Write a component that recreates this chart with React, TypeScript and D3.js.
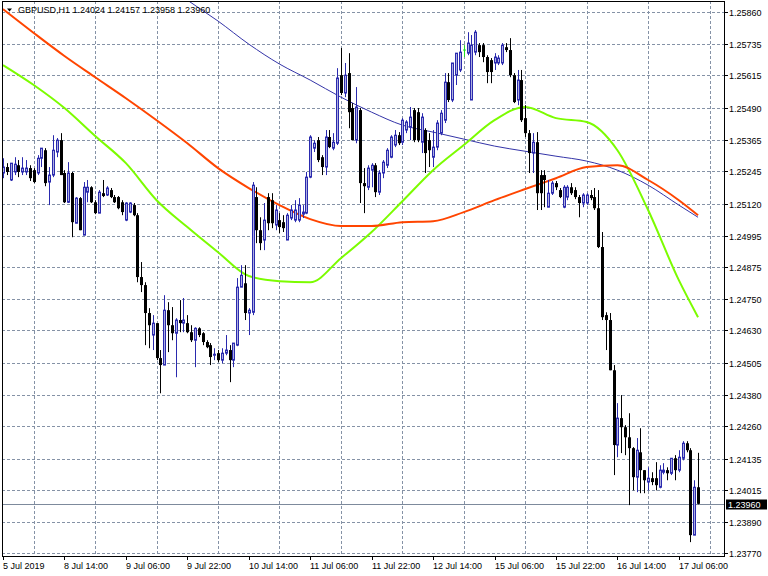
import React from "react";
import * as d3 from "d3";

const SYMBOL = "GBPUSD,H1";

const OPEN = [
1.25238,1.25261,1.25211,1.25242,1.25268,1.25242,1.25242,1.25257,1.25249,1.25238,
1.25295,1.25326,1.25203,1.25230,1.25319,1.25365,1.25238,1.25125,1.25238,1.25044,
1.25141,1.24998,1.25164,1.25183,1.25125,1.25083,1.25160,1.25153,1.25172,1.25145,
1.25145,1.25125,1.25056,1.25087,1.25114,1.25075,1.24836,1.24805,1.24697,1.24612,
1.24658,1.24523,1.24496,1.24708,1.24650,1.24619,1.24670,1.24658,1.24658,1.24623,
1.24592,1.24638,1.24619,1.24585,1.24573,1.24534,1.24542,1.24515,1.24542,1.24554,
1.24515,1.24573,1.24797,1.24812,1.24697,1.24700,1.25145,1.25017,1.24979,1.25145,
1.25133,1.25037,1.25056,1.25048,1.24979,1.25064,1.25056,1.25056,1.25079,1.25083,
1.25222,1.25334,1.25365,1.25299,1.25261,1.25377,1.25334,1.25353,1.25616,1.25547,
1.25624,1.25489,1.25365,1.25481,1.25199,1.25183,1.25249,1.25268,1.25164,1.25238,
1.25268,1.25299,1.25346,1.25384,1.25357,1.25404,1.25415,1.25481,1.25473,1.25357,
1.25404,1.25365,1.25299,1.25338,1.25392,1.25442,1.25589,1.25520,1.25616,1.25636,
1.25713,1.25701,1.25520,1.25705,1.25732,1.25732,1.25686,1.25674,1.25663,1.25663,
1.25663,1.25724,1.25713,1.25616,1.25520,1.25597,1.25450,1.25392,1.25315,1.25357,
1.25230,1.25230,1.25106,1.25160,1.25199,1.25172,1.25106,1.25145,1.25183,1.25172,
1.25145,1.25122,1.25122,1.25153,1.25145,1.25102,1.24952,1.24689,1.24670,1.24476,
1.24187,1.24291,1.24256,1.24217,1.24175,1.24063,1.24159,1.24090,1.24044,1.24059,
1.24059,1.24024,1.24082,1.24090,1.24078,1.24136,1.24090,1.24136,1.24194,1.24167,
1.23839,1.24024];

const HIGH = [
1.25295,1.25276,1.25276,1.25299,1.25288,1.25299,1.25288,1.25268,1.25257,1.25307,
1.25334,1.25334,1.25261,1.25384,1.25373,1.25392,1.25249,1.25280,1.25242,1.25145,
1.25145,1.25203,1.25211,1.25187,1.25133,1.25172,1.25211,1.25187,1.25180,1.25153,
1.25149,1.25133,1.25125,1.25125,1.25122,1.25083,1.24894,1.24816,1.24716,1.24689,
1.24658,1.24554,1.24766,1.24739,1.24720,1.24677,1.24747,1.24755,1.24689,1.24650,
1.24642,1.24642,1.24623,1.24592,1.24581,1.24561,1.24554,1.24561,1.24612,1.24573,
1.24581,1.24832,1.24882,1.24882,1.24716,1.25203,1.25183,1.25067,1.25122,1.25160,
1.25160,1.25114,1.25083,1.25075,1.25083,1.25114,1.25133,1.25141,1.25114,1.25242,
1.25384,1.25365,1.25377,1.25307,1.25404,1.25404,1.25392,1.25643,1.25721,1.25663,
1.25701,1.25508,1.25570,1.25489,1.25257,1.25268,1.25276,1.25276,1.25249,1.25288,
1.25334,1.25384,1.25404,1.25396,1.25450,1.25442,1.25493,1.25489,1.25489,1.25469,
1.25411,1.25392,1.25404,1.25442,1.25481,1.25624,1.25624,1.25663,1.25701,1.25751,
1.25732,1.25782,1.25771,1.25790,1.25740,1.25740,1.25693,1.25682,1.25701,1.25693,
1.25740,1.25740,1.25759,1.25624,1.25636,1.25636,1.25500,1.25404,1.25392,1.25396,
1.25249,1.25249,1.25211,1.25207,1.25207,1.25180,1.25191,1.25191,1.25199,1.25183,
1.25153,1.25160,1.25160,1.25172,1.25180,1.25172,1.25010,1.24700,1.24697,1.24496,
1.24349,1.24380,1.24264,1.24310,1.24179,1.24214,1.24252,1.24090,1.24101,1.24082,
1.24121,1.24109,1.24117,1.24101,1.24136,1.24148,1.24167,1.24202,1.24202,1.24175,
1.24051,1.24157];

const LOW = [
1.25218,1.25230,1.25207,1.25230,1.25222,1.25230,1.25230,1.25207,1.25199,1.25230,
1.25261,1.25187,1.25114,1.25222,1.25299,1.25230,1.25122,1.25122,1.24990,1.25044,
1.25017,1.24998,1.25125,1.25122,1.25079,1.25083,1.25145,1.25149,1.25141,1.25122,
1.25098,1.25075,1.25052,1.25083,1.25071,1.24816,1.24778,1.24573,1.24561,1.24554,
1.24515,1.24387,1.24496,1.24546,1.24592,1.24449,1.24623,1.24623,1.24619,1.24585,
1.24488,1.24604,1.24573,1.24561,1.24496,1.24515,1.24507,1.24503,1.24534,1.24430,
1.24488,1.24569,1.24797,1.24670,1.24612,1.24689,1.24967,1.24940,1.24940,1.25017,
1.25025,1.25017,1.25006,1.25010,1.24979,1.25056,1.25048,1.25048,1.25064,1.25079,
1.25218,1.25319,1.25280,1.25230,1.25230,1.25334,1.25326,1.25346,1.25539,1.25531,
1.25411,1.25365,1.25353,1.25122,1.25083,1.25172,1.25183,1.25145,1.25153,1.25218,
1.25257,1.25295,1.25338,1.25346,1.25346,1.25392,1.25365,1.25357,1.25357,1.25315,
1.25238,1.25261,1.25261,1.25326,1.25384,1.25431,1.25512,1.25512,1.25578,1.25628,
1.25686,1.25693,1.25520,1.25693,1.25686,1.25666,1.25585,1.25585,1.25636,1.25655,
1.25655,1.25705,1.25608,1.25508,1.25500,1.25435,1.25377,1.25238,1.25238,1.25095,
1.25095,1.25106,1.25106,1.25153,1.25172,1.25141,1.25102,1.25133,1.25153,1.25137,
1.25067,1.25106,1.25114,1.25133,1.25095,1.24948,1.24670,1.24554,1.24476,1.24071,
1.24140,1.24156,1.24148,1.23955,1.24012,1.24005,1.24001,1.24001,1.24012,1.24032,
1.24012,1.24020,1.24074,1.24051,1.24071,1.24051,1.24082,1.24128,1.24159,1.23812,
1.23839,1.23958];

const CLOSE = [
1.25261,1.25242,1.25276,1.25272,1.25242,1.25257,1.25257,1.25218,1.25203,1.25295,
1.25334,1.25199,1.25230,1.25326,1.25365,1.25230,1.25125,1.25238,1.25048,1.25141,
1.25017,1.25183,1.25183,1.25125,1.25083,1.25164,1.25149,1.25180,1.25145,1.25125,
1.25102,1.25087,1.25122,1.25122,1.25075,1.24836,1.24805,1.24697,1.24650,1.24658,
1.24523,1.24496,1.24708,1.24650,1.24619,1.24670,1.24658,1.24670,1.24623,1.24592,
1.24638,1.24612,1.24585,1.24565,1.24527,1.24538,1.24515,1.24542,1.24554,1.24515,
1.24581,1.24797,1.24843,1.24697,1.24708,1.25191,1.25017,1.24967,1.25056,1.25044,
1.25044,1.25095,1.25029,1.25025,1.25075,1.25095,1.25095,1.25114,1.25087,1.25222,
1.25377,1.25353,1.25288,1.25261,1.25377,1.25338,1.25357,1.25605,1.25547,1.25616,
1.25473,1.25365,1.25493,1.25199,1.25187,1.25257,1.25268,1.25164,1.25238,1.25280,
1.25326,1.25377,1.25384,1.25353,1.25442,1.25435,1.25454,1.25365,1.25365,1.25454,
1.25315,1.25326,1.25338,1.25431,1.25469,1.25589,1.25520,1.25663,1.25701,1.25705,
1.25713,1.25740,1.25732,1.25782,1.25705,1.25686,1.25628,1.25628,1.25686,1.25682,
1.25732,1.25713,1.25616,1.25512,1.25597,1.25442,1.25392,1.25315,1.25357,1.25160,
1.25160,1.25211,1.25160,1.25199,1.25183,1.25145,1.25183,1.25183,1.25160,1.25145,
1.25122,1.25153,1.25153,1.25141,1.25102,1.24952,1.24681,1.24670,1.24476,1.24187,
1.24291,1.24256,1.24217,1.24175,1.24063,1.24167,1.24090,1.24051,1.24059,1.24044,
1.24032,1.24090,1.24090,1.24078,1.24136,1.24090,1.24140,1.24194,1.24167,1.23839,
1.24024,1.23960];

// Moving averages sampled at bar indices
const MA_IDX = [0,8,16,24,32,40,48,56,64,72,80,88,96,104,112,120,128,136,144,152,160,168,176,181];
const MA_RED = [1.25871,1.25779,1.25690,1.25608,1.25527,1.25442,1.25353,1.25257,1.25180,1.25114,
  1.25060,1.25033,1.25033,1.25048,1.25052,1.25087,1.25133,1.25176,1.25218,1.25261,1.25268,1.25211,1.25133,1.25075];
const MA_GREEN = [1.25655,1.25578,1.25489,1.25381,1.25276,1.25133,1.25029,1.24932,1.24840,1.24820,
  1.24816,1.24909,1.25010,1.25129,1.25249,1.25346,1.25442,1.25493,1.25450,1.25435,1.25326,1.25095,1.24824,1.24681];
const MA_BLUE_IDX = [40,48,56,64,72,80,88,96,104,112,120,128,136,144,152,160,168,176,181];
const MA_BLUE = [1.25995,1.25906,1.25825,1.25736,1.25659,1.25597,1.25531,1.25473,1.25423,1.25396,
  1.25369,1.25342,1.25322,1.25303,1.25284,1.25249,1.25191,1.25114,1.25067];

const PRICE_TICKS = ["1.25860","1.25735","1.25615","1.25490","1.25365","1.25245","1.25120","1.24995",
  "1.24875","1.24750","1.24630","1.24505","1.24380","1.24260","1.24135","1.24015","1.23890","1.23770"];

const TIME_LABELS = ["5 Jul 2019","8 Jul 14:00","9 Jul 06:00","9 Jul 22:00","10 Jul 14:00","11 Jul 06:00",
  "11 Jul 22:00","12 Jul 14:00","15 Jul 06:00","15 Jul 22:00","16 Jul 14:00","17 Jul 06:00"];
const TIME_LABEL_BARS = [0,16,32,48,64,80,96,112,128,144,160,176];

const W = 768, H = 576;
const PL = 2, PR = 724, PT = 1, PB = 556;
const FONT = "'Liberation Sans', Arial, sans-serif";

export default function App() {
  const x = d3.scaleLinear().domain([0, 184]).range([3, 3 + 3.84 * 184]);
  const y = d3.scaleLinear().domain([1.2377, 1.2586]).range([553, 12]);
  const px = (i: number) => Math.round(x(i)) + 0.5;

  const mkLine = (idx: number[], vals: number[]) =>
    d3.line<number>().x((_, k) => x(idx[k])).y((v) => y(v)).curve(d3.curveMonotoneX)(vals) || "";

  const gridColor = "#8592a6";
  const bullStroke = "#2a2aae";
  const bullFill = "#aeaee0";
  const last = CLOSE[CLOSE.length - 1];
  const lastY = Math.round(y(last)) + 0.5;

  const vGrid = TIME_LABEL_BARS.map((b) => b + 8);

  return (
    <svg width={W} height={H} style={{ position: "absolute", left: 0, top: 0, background: "#fff" }}
      shapeRendering="auto">
      <defs>
        <clipPath id="plot"><rect x={PL} y={PT} width={PR - PL} height={PB - PT} /></clipPath>
      </defs>
      <rect x={0} y={0} width={W} height={H} fill="#fff" />
      {/* grid */}
      <g stroke={gridColor} strokeWidth={1} strokeDasharray="3,2" shapeRendering="crispEdges">
        {PRICE_TICKS.map((t) => {
          const yy = Math.round(y(+t)) + 0.5;
          return <line key={t} x1={PL} x2={PR} y1={yy} y2={yy} />;
        })}
        {vGrid.map((b) => (
          <line key={b} x1={px(b)} x2={px(b)} y1={PT} y2={PB} />
        ))}
      </g>
      {/* current price line */}
      <line x1={PL} x2={PR} y1={lastY} y2={lastY} stroke="#7d8a9c" strokeWidth={1} shapeRendering="crispEdges" />
      <g clipPath="url(#plot)">
        {/* MAs */}
        <path d={mkLine(MA_BLUE_IDX, MA_BLUE)} fill="none" stroke="#3434a8" strokeWidth={1} />
        <path d={mkLine(MA_IDX, MA_GREEN)} fill="none" stroke="#7cfc00" strokeWidth={2} />
        <path d={mkLine(MA_IDX, MA_RED)} fill="none" stroke="#ff4500" strokeWidth={2} />
        {/* candles */}
        {OPEN.map((o, i) => {
          const c = CLOSE[i];
          const cx = px(i);
          const yH = y(HIGH[i]);
          const yL = y(LOW[i]);
          const yO = y(o);
          const yC = y(c);
          if (o === c) {
            return (
              <g key={i} stroke="#22dd22" strokeWidth={1}>
                <line x1={cx} x2={cx} y1={yH} y2={yL} />
                <line x1={cx - 1.5} x2={cx + 1.5} y1={yO} y2={yO} />
              </g>
            );
          }
          const bull = c > o;
          const top = Math.min(yO, yC);
          const h = Math.max(1, Math.abs(yO - yC));
          if (bull) {
            return (
              <g key={i}>
                <line x1={cx} x2={cx} y1={yH} y2={yL} stroke={bullStroke} strokeWidth={1} />
                <rect x={cx - 1} y={top} width={2} height={h} fill={bullFill} stroke={bullStroke} strokeWidth={1} />
              </g>
            );
          }
          return (
            <g key={i}>
              <line x1={cx} x2={cx} y1={yH} y2={yL} stroke="#000" strokeWidth={1} />
              <rect x={cx - 1.5} y={top} width={3} height={h} fill="#000" />
            </g>
          );
        })}
      </g>
      {/* frame */}
      <g stroke="#000" strokeWidth={1} shapeRendering="crispEdges" fill="none">
        <line x1={PL + 0.5} x2={PL + 0.5} y1={PT} y2={PB} />
        <line x1={PL} x2={PR} y1={PT + 0.5} y2={PT + 0.5} />
        <line x1={PR + 0.5} x2={PR + 0.5} y1={PT} y2={PB + 1} />
        <line x1={PL} x2={PR + 1} y1={PB + 0.5} y2={PB + 0.5} />
      </g>
      {/* price axis */}
      <g fontFamily={FONT} fontSize={9} fill="#000">
        {PRICE_TICKS.map((t) => {
          const yy = Math.round(y(+t)) + 0.5;
          return (
            <g key={t}>
              <line x1={PR} x2={PR + 4} y1={yy} y2={yy} stroke="#000" shapeRendering="crispEdges" />
              <text x={PR + 5} y={yy + 3.3}>{t}</text>
            </g>
          );
        })}
        <rect x={PR + 2} y={lastY - 5} width={41} height={10} fill="#000" />
        <text x={PR + 4} y={lastY + 3.3} fill="#fff">{last.toFixed(5)}</text>
      </g>
      {/* time axis */}
      <g fontFamily={FONT} fontSize={9} fill="#000">
        {TIME_LABEL_BARS.map((b, k) => {
          const xx = px(b);
          return (
            <g key={b}>
              <line x1={xx} x2={xx} y1={PB} y2={PB + 4} stroke="#000" shapeRendering="crispEdges" />
              <text x={xx - 0.5} y={568.5}>{TIME_LABELS[k]}</text>
            </g>
          );
        })}
      </g>
      {/* header */}
      <path d="M7,8.5 L12,8.5 L9.5,11.5 Z" fill="#000" />
      <text x={18} y={13} fontFamily={FONT} fontSize={9} fill="#000">
        {`${SYMBOL}  ${OPEN[181].toFixed(5)} ${HIGH[181].toFixed(5)} ${LOW[181].toFixed(5)} ${CLOSE[181].toFixed(5)}`}
      </text>
    </svg>
  );
}
